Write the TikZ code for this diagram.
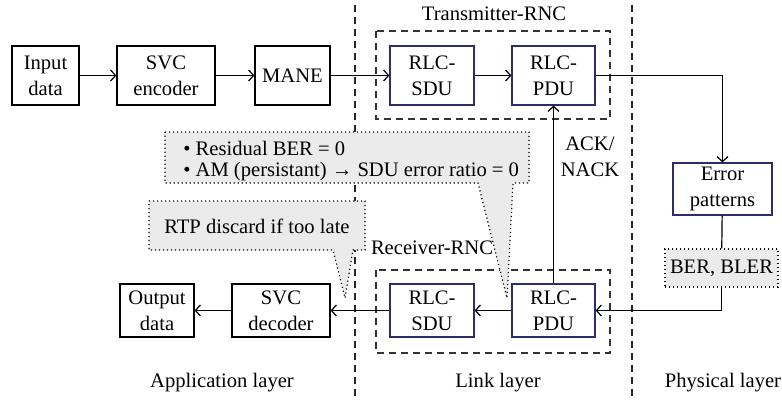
\documentclass[tikz,border=0pt]{standalone}
\usepackage{fontspec}
\setmainfont{Liberation Serif}
\usetikzlibrary{arrows.meta}

\definecolor{rlcblue}{RGB}{45,45,110}
\definecolor{notegray}{RGB}{235,235,235}

\begin{document}
\begin{tikzpicture}[x=0.5pt, y=-0.5pt, line width=0.6pt,
    font=\fontsize{10.3}{13}\selectfont,
    block/.style={draw, align=center, inner sep=0pt, minimum height=29.5pt},
    rlc/.style={block, draw=rlcblue, minimum width=42pt, minimum height=26.5pt},
    flow/.style={-{Straight Barb[length=2.5pt,width=5.5pt]}},
    layerline/.style={draw=black!85, dash pattern=on 3.5pt off 2.5pt},
    group/.style={draw=black!80, dash pattern=on 3.5pt off 2.5pt},
    note/.style={fill=notegray, draw, dash pattern=on 0.6pt off 1.4pt}]

    \useasboundingbox (0,0) rectangle (782,400);

    % Layer borders
    \draw[layerline] (355,5) -- (355,400);
    \draw[layerline] (632,5) -- (632,400);

    % RNC groups
    \draw[group] (376,31) rectangle (610,119);
    \draw[group] (376,270) rectangle (610,353);
    \node (txlabel) at (494,21) [anchor=base] {Transmitter-RNC};
    \node (rxlabel) at (432,255) [anchor=base] {Receiver-RNC};

    % Notes
    \draw[note] (165,132) -- (529,132) -- (529,183) -- (513,183) -- (507,298) -- (478,183) -- (165,183) -- cycle;
    \node (note1a) at (176,156) [anchor=base west] {• Residual BER = 0};
    \node (note1b) at (176,177) [anchor=base west] {• AM (persistant) → SDU error ratio = 0};
    \draw[note] (149,201) -- (365,201) -- (365,250) -- (353,250) -- (345,298) -- (333,250) -- (149,250) -- cycle;
    \node (note2) at (257,234) [anchor=base] {RTP discard if too late};

    % Sender side
    \node (in) at (45.5,75.5) [block, minimum width=33.5pt] {Input\\data};
    \node (enc) at (166,75.5) [block, minimum width=49pt] {SVC\\encoder};
    \node (mane) at (292.5,75.5) [block, minimum width=37.5pt] {MANE};
    \node (tsdu) at (432,75.5) [rlc, minimum height=29.5pt] {RLC-\\SDU};
    \node (tpdu) at (553.5,75.5) [rlc, minimum width=41.5pt, minimum height=29.5pt] {RLC-\\PDU};

    % Channel
    \node (err) at (722.5,189) [block, draw=rlcblue, minimum width=49.5pt, minimum height=26pt] {Error\\patterns};
    \node (ber) at (721.5,268) [note, inner sep=0pt, minimum width=56.5pt, minimum height=19pt] {BER, BLER};

    % Receiver side
    \node (rpdu) at (553.5,310.5) [rlc, minimum width=41.5pt] {RLC-\\PDU};
    \node (rsdu) at (432,310.5) [rlc] {RLC-\\SDU};
    \node (dec) at (281,310.5) [block, minimum width=49pt, minimum height=26.5pt] {SVC\\decoder};
    \node (out) at (157,310.5) [block, minimum width=37pt, minimum height=26.5pt] {Output\\data};

    % Edges
    \draw[flow] (in) -- (enc);
    \draw[flow] (enc) -- (mane);
    \draw[flow] (mane) -- (tsdu);
    \draw[flow] (tsdu) -- (tpdu);
    \draw[flow] (tpdu.east) -| (err.north);
    \draw (err) -- (ber);
    \draw[flow] (ber.south) |- (rpdu.east);
    \draw[flow] (rpdu) -- node[right, pos=0.71, align=center] (ack) {ACK/\\NACK} (tpdu);
    \draw[flow] (rpdu) -- (rsdu);
    \draw[flow] (rsdu) -- (dec);
    \draw[flow] (dec) -- (out);

    % Layer names
    \node (applabel) at (222,388) [anchor=base] {Application layer};
    \node (linklabel) at (498,388) [anchor=base] {Link layer};
    \node (phylabel) at (723,388) [anchor=base] {Physical layer};
\end{tikzpicture}
\end{document}
